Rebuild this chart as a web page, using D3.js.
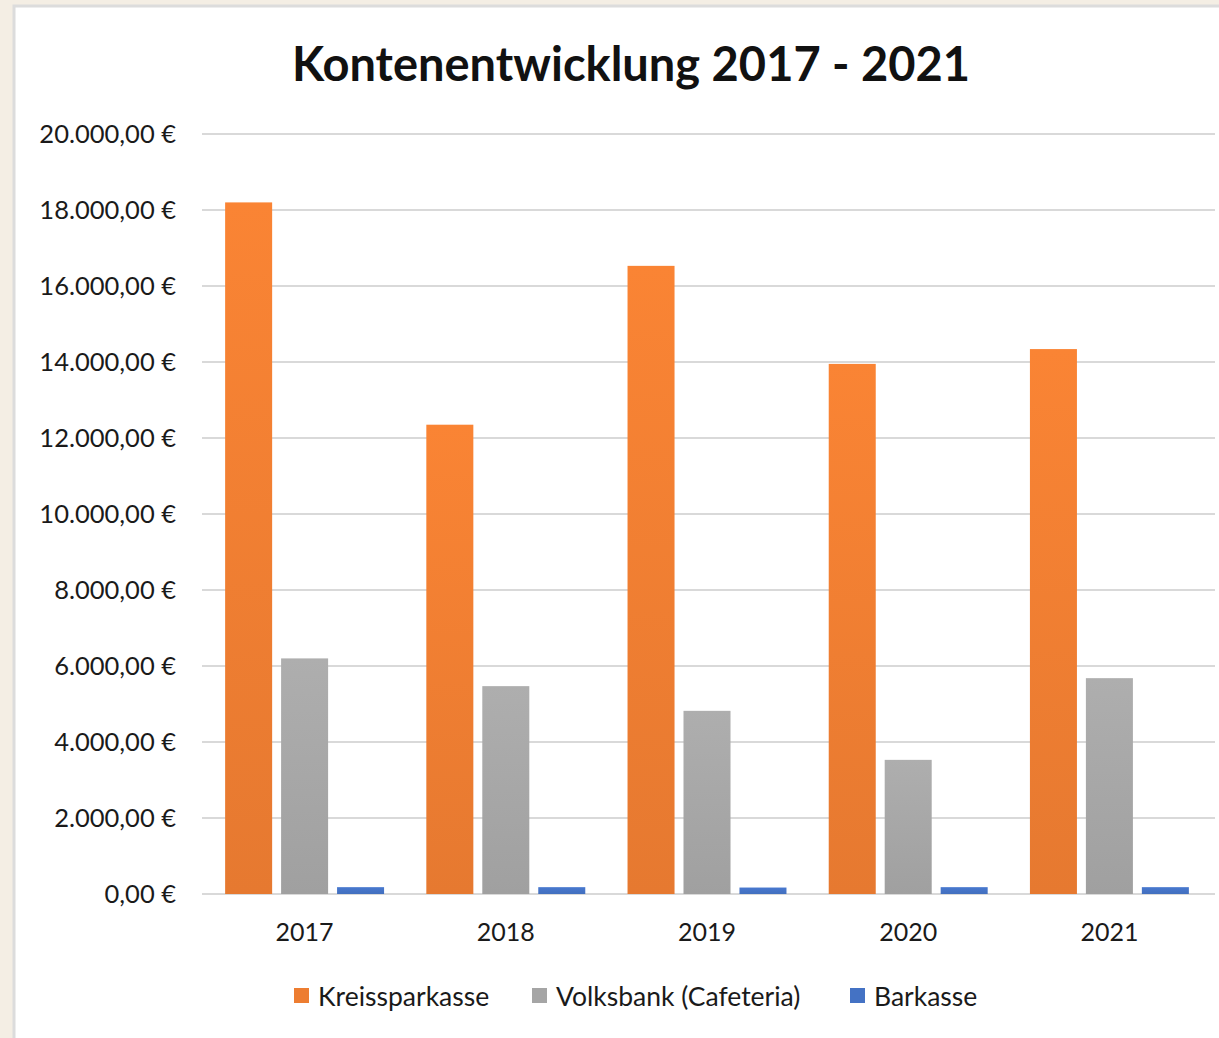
<!DOCTYPE html>
<meta charset="utf-8">
<style>
  body { margin: 0; background: #f4eee4; }
  svg { display: block; font-family: Lato, "Open Sans", sans-serif; }
</style>
<svg width="1219" height="1038"></svg>
<script src="https://d3js.org/d3.v7.min.js"></script>
<script>
  const years = ['2017', '2018', '2019', '2020', '2021']
  const seriesNames = ['Kreissparkasse', 'Volksbank (Cafeteria)', 'Barkasse']
  const kreissparkasse = [18200, 12350, 16530, 13950, 14340]
  const volksbank = [6200, 5470, 4820, 3530, 5680]
  const barkasse = [180, 180, 170, 180, 180]
  const yTicks = [0, 2000, 4000, 6000, 8000, 10000, 12000, 14000, 16000, 18000, 20000]
  const colors = ['#ed7d31', '#a5a5a5', '#4472c4']

  const allValues = [kreissparkasse, volksbank, barkasse]
  const rows = years.map((y, i) => ({ year: y, values: allValues.map(s => s[i]) }))

  const svg = d3.select('svg')

  // white chart panel
  svg.append('rect')
    .attr('x', 14).attr('y', 6)
    .attr('width', 1220).attr('height', 1040)
    .attr('fill', '#fff')
    .attr('stroke', '#dcdcdc')
    .attr('stroke-width', 3)

  const defs = svg.append('defs')
  colors.forEach((c, i) => {
    const g = defs.append('linearGradient')
      .attr('id', 'grad' + i)
      .attr('x1', 0).attr('y1', 0).attr('x2', 0).attr('y2', 1)
    g.append('stop').attr('offset', '0%').attr('stop-color', d3.color(c).brighter(0.15))
    g.append('stop').attr('offset', '100%').attr('stop-color', d3.color(c).darker(0.08))
  })

  const margin = { left: 204, right: 1210, top: 134, bottom: 894 }

  const x = d3.scaleBand()
    .domain(years)
    .range([margin.left, margin.right])
    .paddingInner(0.21)
    .paddingOuter(0.105)

  const x1 = d3.scaleBand()
    .domain(d3.range(3))
    .range([0, x.bandwidth()])
    .paddingInner(0.16)

  const y = d3.scaleLinear()
    .domain([0, 20000])
    .range([margin.bottom, margin.top])

  const fmt = v => d3.formatLocale({ decimal: ',', thousands: '.', grouping: [3], currency: ['', ' €'] })
    .format(',.2f')(v) + ' €'

  // gridlines
  svg.append('g')
    .selectAll('line')
    .data(yTicks)
    .enter().append('line')
    .attr('x1', 202).attr('x2', 1215)
    .attr('y1', d => y(d)).attr('y2', d => y(d))
    .attr('stroke', '#d9d9d9')
    .attr('stroke-width', 2)

  // y tick labels
  svg.append('g')
    .selectAll('text')
    .data(yTicks)
    .enter().append('text')
    .attr('x', 176)
    .attr('y', d => y(d))
    .attr('dy', '0.35em')
    .attr('text-anchor', 'end')
    .attr('font-size', 25.5)
    .attr('fill', '#1a1a1a')
    .text(fmt)

  // bars
  const groups = svg.append('g')
    .selectAll('g')
    .data(rows)
    .enter().append('g')
    .attr('transform', d => `translate(${x(d.year)},0)`)

  groups.selectAll('rect')
    .data(d => d.values)
    .enter().append('rect')
    .attr('x', (d, i) => x1(i))
    .attr('width', x1.bandwidth())
    .attr('y', d => y(d))
    .attr('height', d => y(0) - y(d))
    .attr('fill', (d, i) => `url(#grad${i})`)

  // x labels
  svg.append('g')
    .selectAll('text')
    .data(years)
    .enter().append('text')
    .attr('x', d => x(d) + x.bandwidth() / 2)
    .attr('y', 941)
    .attr('text-anchor', 'middle')
    .attr('font-size', 25)
    .attr('fill', '#1a1a1a')
    .text(d => d)

  // title
  svg.append('text')
    .attr('x', 631)
    .attr('y', 81)
    .attr('text-anchor', 'middle')
    .attr('font-size', 47)
    .attr('font-weight', 'bold')
    .attr('fill', '#111')
    .text('Kontenentwicklung 2017 - 2021')

  // legend
  const legendX = [294, 532, 850]
  const legend = svg.append('g')
    .selectAll('g')
    .data(seriesNames)
    .enter().append('g')
    .attr('transform', (d, i) => `translate(${legendX[i]},997)`)
  legend.append('rect')
    .attr('x', 0).attr('y', -9)
    .attr('width', 15).attr('height', 15)
    .attr('fill', (d, i) => colors[i])
  legend.append('text')
    .attr('x', 24)
    .attr('y', 0)
    .attr('dy', '0.35em')
    .attr('font-size', 26.5)
    .attr('fill', '#1a1a1a')
    .text(d => d)
</script>
